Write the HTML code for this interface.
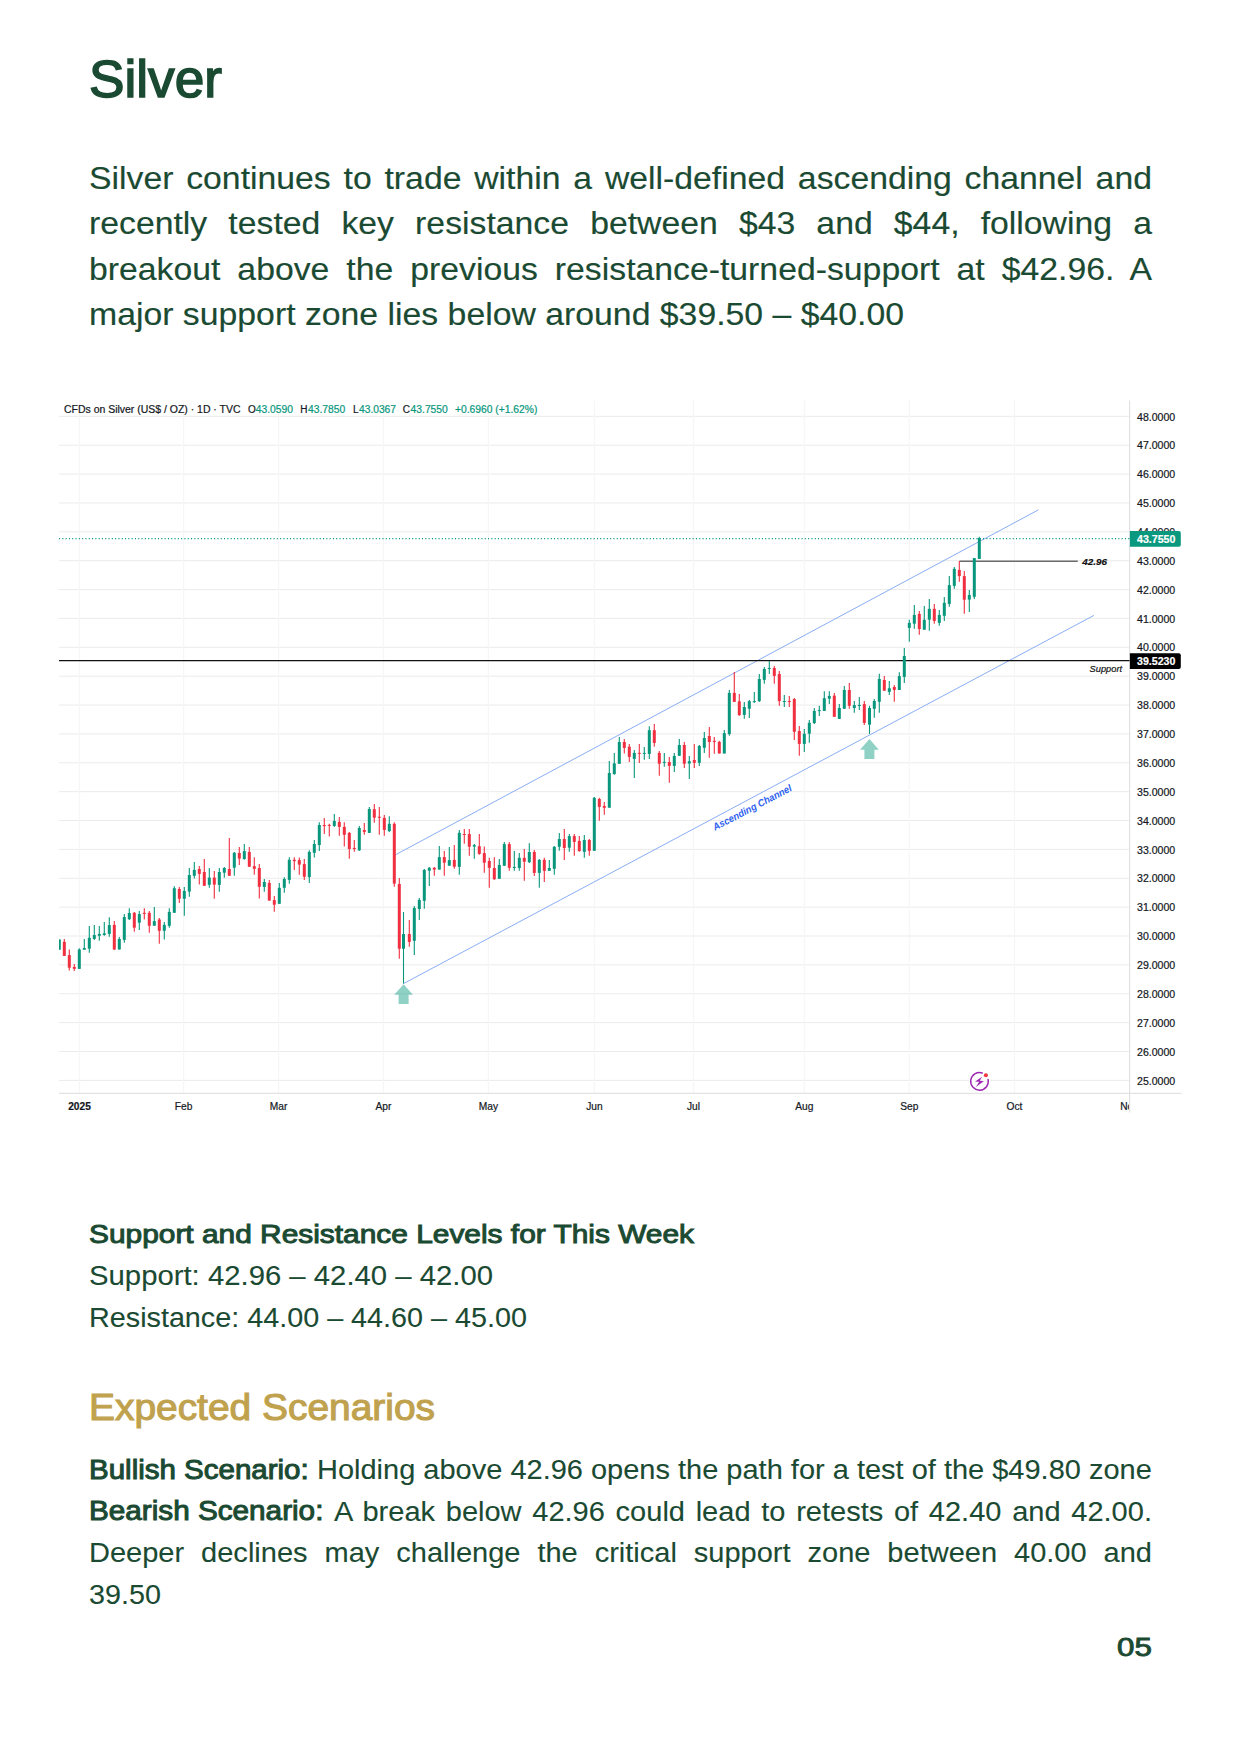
<!DOCTYPE html>
<html lang="en"><head><meta charset="utf-8"><title>Silver</title>
<style>
html,body{margin:0;padding:0;background:#fff;}
body{width:1241px;height:1754px;position:relative;overflow:hidden;font-family:'Liberation Sans', Arial, sans-serif;color:#1b4a32;}
.chart{position:absolute;left:0;top:0;}
p,h1,h2{margin:0;padding:0;}
.ln{position:absolute;display:block;white-space:nowrap;line-height:1;margin:0;padding:0;font-weight:normal;transform-origin:0 0;}
</style></head><body>
<figure style="margin:0"><svg class="chart" width="1241" height="1754" viewBox="0 0 1241 1754" font-family="Liberation Sans, Arial, sans-serif">
<line x1="59" x2="1129.6" y1="1080.36" y2="1080.36" stroke="#ebebeb" stroke-width="1"/>
<line x1="59" x2="1129.6" y1="1051.49" y2="1051.49" stroke="#ebebeb" stroke-width="1"/>
<line x1="59" x2="1129.6" y1="1022.62" y2="1022.62" stroke="#ebebeb" stroke-width="1"/>
<line x1="59" x2="1129.6" y1="993.75" y2="993.75" stroke="#ebebeb" stroke-width="1"/>
<line x1="59" x2="1129.6" y1="964.88" y2="964.88" stroke="#ebebeb" stroke-width="1"/>
<line x1="59" x2="1129.6" y1="936.01" y2="936.01" stroke="#ebebeb" stroke-width="1"/>
<line x1="59" x2="1129.6" y1="907.14" y2="907.14" stroke="#ebebeb" stroke-width="1"/>
<line x1="59" x2="1129.6" y1="878.27" y2="878.27" stroke="#ebebeb" stroke-width="1"/>
<line x1="59" x2="1129.6" y1="849.40" y2="849.40" stroke="#ebebeb" stroke-width="1"/>
<line x1="59" x2="1129.6" y1="820.53" y2="820.53" stroke="#ebebeb" stroke-width="1"/>
<line x1="59" x2="1129.6" y1="791.66" y2="791.66" stroke="#ebebeb" stroke-width="1"/>
<line x1="59" x2="1129.6" y1="762.79" y2="762.79" stroke="#ebebeb" stroke-width="1"/>
<line x1="59" x2="1129.6" y1="733.92" y2="733.92" stroke="#ebebeb" stroke-width="1"/>
<line x1="59" x2="1129.6" y1="705.05" y2="705.05" stroke="#ebebeb" stroke-width="1"/>
<line x1="59" x2="1129.6" y1="676.18" y2="676.18" stroke="#ebebeb" stroke-width="1"/>
<line x1="59" x2="1129.6" y1="647.31" y2="647.31" stroke="#ebebeb" stroke-width="1"/>
<line x1="59" x2="1129.6" y1="618.44" y2="618.44" stroke="#ebebeb" stroke-width="1"/>
<line x1="59" x2="1129.6" y1="589.57" y2="589.57" stroke="#ebebeb" stroke-width="1"/>
<line x1="59" x2="1129.6" y1="560.70" y2="560.70" stroke="#ebebeb" stroke-width="1"/>
<line x1="59" x2="1129.6" y1="531.83" y2="531.83" stroke="#ebebeb" stroke-width="1"/>
<line x1="59" x2="1129.6" y1="502.96" y2="502.96" stroke="#ebebeb" stroke-width="1"/>
<line x1="59" x2="1129.6" y1="474.09" y2="474.09" stroke="#ebebeb" stroke-width="1"/>
<line x1="59" x2="1129.6" y1="445.22" y2="445.22" stroke="#ebebeb" stroke-width="1"/>
<line x1="59" x2="1129.6" y1="416.35" y2="416.35" stroke="#ebebeb" stroke-width="1"/>
<line x1="79.50" x2="79.50" y1="400.5" y2="1093" stroke="#f6f6f6" stroke-width="1.2"/>
<line x1="183.60" x2="183.60" y1="400.5" y2="1093" stroke="#f6f6f6" stroke-width="1.2"/>
<line x1="278.60" x2="278.60" y1="400.5" y2="1093" stroke="#f6f6f6" stroke-width="1.2"/>
<line x1="383.50" x2="383.50" y1="400.5" y2="1093" stroke="#f6f6f6" stroke-width="1.2"/>
<line x1="488.40" x2="488.40" y1="400.5" y2="1093" stroke="#f6f6f6" stroke-width="1.2"/>
<line x1="594.40" x2="594.40" y1="400.5" y2="1093" stroke="#f6f6f6" stroke-width="1.2"/>
<line x1="693.50" x2="693.50" y1="400.5" y2="1093" stroke="#f6f6f6" stroke-width="1.2"/>
<line x1="804.40" x2="804.40" y1="400.5" y2="1093" stroke="#f6f6f6" stroke-width="1.2"/>
<line x1="909.30" x2="909.30" y1="400.5" y2="1093" stroke="#f6f6f6" stroke-width="1.2"/>
<line x1="1014.50" x2="1014.50" y1="400.5" y2="1093" stroke="#f6f6f6" stroke-width="1.2"/>
<line x1="1129.6" x2="1129.6" y1="400.5" y2="1112.5" stroke="#e2e2e4" stroke-width="1.2"/>
<line x1="59" x2="1181.5" y1="1093.4" y2="1093.4" stroke="#e2e2e4" stroke-width="1.2"/>
<line x1="393.6" y1="855.8" x2="1038.5" y2="509.8" stroke="#8aaef5" stroke-width="1"/>
<line x1="403.5" y1="983.6" x2="1093.9" y2="615.4" stroke="#8aaef5" stroke-width="1"/>
<line x1="59" x2="1129.6" y1="538.6" y2="538.6" stroke="#08977d" stroke-width="1.1" stroke-dasharray="1.1 2.2"/>
<line x1="59" x2="1129.6" y1="660.6" y2="660.6" stroke="#111" stroke-width="1.3"/>
<line x1="959.5" x2="1077.8" y1="561.3" y2="561.3" stroke="#6b6b6b" stroke-width="1.4"/>
<clipPath id="cc"><rect x="59" y="400" width="1070" height="693"/></clipPath><g clip-path="url(#cc)">
<line x1="59.30" x2="59.30" y1="939.5" y2="949.7" stroke="#08977d" stroke-width="1.1"/>
<rect x="57.80" y="939.5" width="3" height="10.2" fill="#08977d"/>
<line x1="64.30" x2="64.30" y1="939.0" y2="955.9" stroke="#f02f40" stroke-width="1.1"/>
<rect x="62.80" y="941.8" width="3" height="14.1" fill="#f02f40"/>
<line x1="69.30" x2="69.30" y1="949.5" y2="970.6" stroke="#f02f40" stroke-width="1.1"/>
<rect x="67.80" y="955.1" width="3" height="12.6" fill="#f02f40"/>
<line x1="74.30" x2="74.30" y1="964.0" y2="970.9" stroke="#f02f40" stroke-width="1.1"/>
<rect x="72.80" y="966.9" width="3" height="1.9" fill="#f02f40"/>
<line x1="79.30" x2="79.30" y1="948.2" y2="968.9" stroke="#08977d" stroke-width="1.1"/>
<rect x="77.80" y="949.5" width="3" height="19.4" fill="#08977d"/>
<line x1="84.30" x2="84.30" y1="939.0" y2="949.7" stroke="#08977d" stroke-width="1.1"/>
<rect x="82.80" y="948.0" width="3" height="1.7" fill="#08977d"/>
<line x1="89.30" x2="89.30" y1="926.0" y2="952.7" stroke="#08977d" stroke-width="1.1"/>
<rect x="87.80" y="937.8" width="3" height="10.9" fill="#08977d"/>
<line x1="94.30" x2="94.30" y1="925.1" y2="939.9" stroke="#08977d" stroke-width="1.1"/>
<rect x="92.80" y="935.0" width="3" height="3.9" fill="#08977d"/>
<line x1="99.30" x2="99.30" y1="926.0" y2="940.8" stroke="#08977d" stroke-width="1.1"/>
<rect x="97.80" y="933.9" width="3" height="1.9" fill="#08977d"/>
<line x1="104.30" x2="104.30" y1="922.0" y2="935.8" stroke="#08977d" stroke-width="1.1"/>
<rect x="102.80" y="933.3" width="3" height="1.7" fill="#08977d"/>
<line x1="109.30" x2="109.30" y1="917.2" y2="936.7" stroke="#08977d" stroke-width="1.1"/>
<rect x="107.80" y="925.1" width="3" height="8.8" fill="#08977d"/>
<line x1="114.30" x2="114.30" y1="921.1" y2="949.9" stroke="#f02f40" stroke-width="1.1"/>
<rect x="112.80" y="924.9" width="3" height="24.6" fill="#f02f40"/>
<line x1="119.30" x2="119.30" y1="937.1" y2="949.5" stroke="#08977d" stroke-width="1.1"/>
<rect x="117.80" y="939.0" width="3" height="10.5" fill="#08977d"/>
<line x1="124.30" x2="124.30" y1="914.1" y2="942.7" stroke="#08977d" stroke-width="1.1"/>
<rect x="122.80" y="917.0" width="3" height="22.9" fill="#08977d"/>
<line x1="129.30" x2="129.30" y1="908.2" y2="920.0" stroke="#08977d" stroke-width="1.1"/>
<rect x="127.80" y="913.0" width="3" height="6.2" fill="#08977d"/>
<line x1="134.30" x2="134.30" y1="911.9" y2="931.7" stroke="#f02f40" stroke-width="1.1"/>
<rect x="132.80" y="912.8" width="3" height="14.9" fill="#f02f40"/>
<line x1="139.30" x2="139.30" y1="911.1" y2="929.9" stroke="#08977d" stroke-width="1.1"/>
<rect x="137.80" y="914.1" width="3" height="8.6" fill="#08977d"/>
<line x1="144.30" x2="144.30" y1="908.2" y2="919.5" stroke="#f02f40" stroke-width="1.1"/>
<rect x="142.80" y="912.8" width="3" height="1.1" fill="#f02f40"/>
<line x1="149.30" x2="149.30" y1="911.1" y2="932.8" stroke="#f02f40" stroke-width="1.1"/>
<rect x="147.80" y="912.8" width="3" height="13.0" fill="#f02f40"/>
<line x1="154.30" x2="154.30" y1="907.0" y2="925.8" stroke="#08977d" stroke-width="1.1"/>
<rect x="152.80" y="921.1" width="3" height="4.6" fill="#08977d"/>
<line x1="159.30" x2="159.30" y1="918.1" y2="943.8" stroke="#f02f40" stroke-width="1.1"/>
<rect x="157.80" y="919.5" width="3" height="11.3" fill="#f02f40"/>
<line x1="164.30" x2="164.30" y1="922.0" y2="939.6" stroke="#08977d" stroke-width="1.1"/>
<rect x="162.80" y="924.9" width="3" height="5.9" fill="#08977d"/>
<line x1="169.30" x2="169.30" y1="908.2" y2="927.8" stroke="#08977d" stroke-width="1.1"/>
<rect x="167.80" y="911.9" width="3" height="13.9" fill="#08977d"/>
<line x1="174.30" x2="174.30" y1="886.2" y2="912.8" stroke="#08977d" stroke-width="1.1"/>
<rect x="172.80" y="888.2" width="3" height="24.6" fill="#08977d"/>
<line x1="179.30" x2="179.30" y1="887.1" y2="902.9" stroke="#f02f40" stroke-width="1.1"/>
<rect x="177.80" y="889.0" width="3" height="9.7" fill="#f02f40"/>
<line x1="184.30" x2="184.30" y1="887.1" y2="915.8" stroke="#08977d" stroke-width="1.1"/>
<rect x="182.80" y="891.0" width="3" height="7.7" fill="#08977d"/>
<line x1="189.30" x2="189.30" y1="868.0" y2="896.8" stroke="#08977d" stroke-width="1.1"/>
<rect x="187.80" y="875.0" width="3" height="16.6" fill="#08977d"/>
<line x1="194.30" x2="194.30" y1="862.0" y2="878.6" stroke="#08977d" stroke-width="1.1"/>
<rect x="192.80" y="869.9" width="3" height="5.9" fill="#08977d"/>
<line x1="199.30" x2="199.30" y1="866.0" y2="884.6" stroke="#f02f40" stroke-width="1.1"/>
<rect x="197.80" y="869.0" width="3" height="4.9" fill="#f02f40"/>
<line x1="204.30" x2="204.30" y1="859.0" y2="885.7" stroke="#f02f40" stroke-width="1.1"/>
<rect x="202.80" y="872.0" width="3" height="13.8" fill="#f02f40"/>
<line x1="209.30" x2="209.30" y1="868.0" y2="887.8" stroke="#08977d" stroke-width="1.1"/>
<rect x="207.80" y="877.6" width="3" height="7.2" fill="#08977d"/>
<line x1="214.30" x2="214.30" y1="871.1" y2="898.7" stroke="#f02f40" stroke-width="1.1"/>
<rect x="212.80" y="877.6" width="3" height="7.0" fill="#f02f40"/>
<line x1="219.30" x2="219.30" y1="868.0" y2="891.7" stroke="#08977d" stroke-width="1.1"/>
<rect x="217.80" y="872.0" width="3" height="12.9" fill="#08977d"/>
<line x1="224.30" x2="224.30" y1="867.1" y2="877.8" stroke="#08977d" stroke-width="1.1"/>
<rect x="222.80" y="868.0" width="3" height="4.7" fill="#08977d"/>
<line x1="229.30" x2="229.30" y1="838.1" y2="875.8" stroke="#f02f40" stroke-width="1.1"/>
<rect x="227.80" y="869.0" width="3" height="6.8" fill="#f02f40"/>
<line x1="234.30" x2="234.30" y1="851.9" y2="875.8" stroke="#08977d" stroke-width="1.1"/>
<rect x="232.80" y="852.8" width="3" height="14.9" fill="#08977d"/>
<line x1="239.30" x2="239.30" y1="847.0" y2="864.9" stroke="#f02f40" stroke-width="1.1"/>
<rect x="237.80" y="853.0" width="3" height="5.6" fill="#f02f40"/>
<line x1="244.30" x2="244.30" y1="844.0" y2="859.8" stroke="#08977d" stroke-width="1.1"/>
<rect x="242.80" y="851.1" width="3" height="7.9" fill="#08977d"/>
<line x1="249.30" x2="249.30" y1="847.0" y2="866.8" stroke="#f02f40" stroke-width="1.1"/>
<rect x="247.80" y="851.9" width="3" height="14.9" fill="#f02f40"/>
<line x1="254.30" x2="254.30" y1="857.2" y2="874.7" stroke="#f02f40" stroke-width="1.1"/>
<rect x="252.80" y="866.2" width="3" height="2.6" fill="#f02f40"/>
<line x1="259.30" x2="259.30" y1="864.1" y2="898.5" stroke="#f02f40" stroke-width="1.1"/>
<rect x="257.80" y="868.0" width="3" height="18.8" fill="#f02f40"/>
<line x1="264.30" x2="264.30" y1="879.0" y2="891.7" stroke="#08977d" stroke-width="1.1"/>
<rect x="262.80" y="882.0" width="3" height="4.9" fill="#08977d"/>
<line x1="269.30" x2="269.30" y1="880.1" y2="900.6" stroke="#f02f40" stroke-width="1.1"/>
<rect x="267.80" y="882.9" width="3" height="17.7" fill="#f02f40"/>
<line x1="274.30" x2="274.30" y1="896.1" y2="911.7" stroke="#f02f40" stroke-width="1.1"/>
<rect x="272.80" y="900.1" width="3" height="4.6" fill="#f02f40"/>
<line x1="279.30" x2="279.30" y1="883.1" y2="903.8" stroke="#08977d" stroke-width="1.1"/>
<rect x="277.80" y="887.8" width="3" height="16.0" fill="#08977d"/>
<line x1="284.30" x2="284.30" y1="877.3" y2="892.7" stroke="#08977d" stroke-width="1.1"/>
<rect x="282.80" y="879.0" width="3" height="8.8" fill="#08977d"/>
<line x1="289.30" x2="289.30" y1="857.3" y2="883.8" stroke="#08977d" stroke-width="1.1"/>
<rect x="287.80" y="859.8" width="3" height="20.1" fill="#08977d"/>
<line x1="294.30" x2="294.30" y1="857.2" y2="869.9" stroke="#f02f40" stroke-width="1.1"/>
<rect x="292.80" y="859.8" width="3" height="1.4" fill="#f02f40"/>
<line x1="299.30" x2="299.30" y1="857.5" y2="874.7" stroke="#f02f40" stroke-width="1.1"/>
<rect x="297.80" y="860.1" width="3" height="4.5" fill="#f02f40"/>
<line x1="304.30" x2="304.30" y1="859.0" y2="879.9" stroke="#f02f40" stroke-width="1.1"/>
<rect x="302.80" y="864.1" width="3" height="12.6" fill="#f02f40"/>
<line x1="309.30" x2="309.30" y1="850.2" y2="882.9" stroke="#08977d" stroke-width="1.1"/>
<rect x="307.80" y="851.9" width="3" height="25.2" fill="#08977d"/>
<line x1="314.30" x2="314.30" y1="840.0" y2="857.5" stroke="#08977d" stroke-width="1.1"/>
<rect x="312.80" y="844.0" width="3" height="8.8" fill="#08977d"/>
<line x1="319.30" x2="319.30" y1="822.2" y2="850.9" stroke="#08977d" stroke-width="1.1"/>
<rect x="317.80" y="825.0" width="3" height="20.0" fill="#08977d"/>
<line x1="324.30" x2="324.30" y1="818.0" y2="834.0" stroke="#f02f40" stroke-width="1.1"/>
<rect x="322.80" y="825.0" width="3" height="1.1" fill="#f02f40"/>
<line x1="329.30" x2="329.30" y1="823.8" y2="836.5" stroke="#f02f40" stroke-width="1.1"/>
<rect x="327.80" y="824.9" width="3" height="1.0" fill="#f02f40"/>
<line x1="334.30" x2="334.30" y1="814.0" y2="826.9" stroke="#08977d" stroke-width="1.1"/>
<rect x="332.80" y="821.0" width="3" height="4.9" fill="#08977d"/>
<line x1="339.30" x2="339.30" y1="817.1" y2="835.7" stroke="#f02f40" stroke-width="1.1"/>
<rect x="337.80" y="821.9" width="3" height="5.0" fill="#f02f40"/>
<line x1="344.30" x2="344.30" y1="822.2" y2="846.4" stroke="#f02f40" stroke-width="1.1"/>
<rect x="342.80" y="826.9" width="3" height="7.9" fill="#f02f40"/>
<line x1="349.30" x2="349.30" y1="832.0" y2="858.8" stroke="#f02f40" stroke-width="1.1"/>
<rect x="347.80" y="832.9" width="3" height="16.1" fill="#f02f40"/>
<line x1="354.30" x2="354.30" y1="840.0" y2="851.8" stroke="#f02f40" stroke-width="1.1"/>
<rect x="352.80" y="847.9" width="3" height="1.1" fill="#f02f40"/>
<line x1="359.30" x2="359.30" y1="826.1" y2="850.9" stroke="#08977d" stroke-width="1.1"/>
<rect x="357.80" y="828.0" width="3" height="22.3" fill="#08977d"/>
<line x1="364.30" x2="364.30" y1="823.1" y2="834.8" stroke="#f02f40" stroke-width="1.1"/>
<rect x="362.80" y="830.0" width="3" height="1.9" fill="#f02f40"/>
<line x1="369.30" x2="369.30" y1="806.9" y2="832.9" stroke="#08977d" stroke-width="1.1"/>
<rect x="367.80" y="809.0" width="3" height="23.9" fill="#08977d"/>
<line x1="374.30" x2="374.30" y1="804.1" y2="822.7" stroke="#f02f40" stroke-width="1.1"/>
<rect x="372.80" y="809.2" width="3" height="8.5" fill="#f02f40"/>
<line x1="379.30" x2="379.30" y1="806.9" y2="834.8" stroke="#f02f40" stroke-width="1.1"/>
<rect x="377.80" y="816.7" width="3" height="1.1" fill="#f02f40"/>
<line x1="384.30" x2="384.30" y1="815.0" y2="835.7" stroke="#f02f40" stroke-width="1.1"/>
<rect x="382.80" y="817.9" width="3" height="12.0" fill="#f02f40"/>
<line x1="389.30" x2="389.30" y1="816.2" y2="832.0" stroke="#08977d" stroke-width="1.1"/>
<rect x="387.80" y="823.8" width="3" height="7.3" fill="#08977d"/>
<line x1="394.30" x2="394.30" y1="822.2" y2="886.8" stroke="#f02f40" stroke-width="1.1"/>
<rect x="392.80" y="823.8" width="3" height="59.8" fill="#f02f40"/>
<line x1="399.30" x2="399.30" y1="878.0" y2="958.8" stroke="#f02f40" stroke-width="1.1"/>
<rect x="397.80" y="884.0" width="3" height="64.7" fill="#f02f40"/>
<line x1="403.50" x2="403.50" y1="912.0" y2="983.6" stroke="#08977d" stroke-width="1.1"/>
<rect x="402.00" y="934.0" width="3" height="14.7" fill="#08977d"/>
<line x1="409.30" x2="409.30" y1="920.1" y2="946.7" stroke="#f02f40" stroke-width="1.1"/>
<rect x="407.80" y="934.0" width="3" height="7.9" fill="#f02f40"/>
<line x1="414.30" x2="414.30" y1="906.0" y2="954.9" stroke="#08977d" stroke-width="1.1"/>
<rect x="412.80" y="908.0" width="3" height="32.8" fill="#08977d"/>
<line x1="419.30" x2="419.30" y1="898.1" y2="919.9" stroke="#08977d" stroke-width="1.1"/>
<rect x="417.80" y="899.9" width="3" height="9.1" fill="#08977d"/>
<line x1="424.30" x2="424.30" y1="869.0" y2="908.8" stroke="#08977d" stroke-width="1.1"/>
<rect x="422.80" y="869.9" width="3" height="30.9" fill="#08977d"/>
<line x1="429.30" x2="429.30" y1="867.1" y2="885.9" stroke="#08977d" stroke-width="1.1"/>
<rect x="427.80" y="867.8" width="3" height="2.9" fill="#08977d"/>
<line x1="434.30" x2="434.30" y1="867.1" y2="875.7" stroke="#f02f40" stroke-width="1.1"/>
<rect x="432.80" y="867.8" width="3" height="1.8" fill="#f02f40"/>
<line x1="439.30" x2="439.30" y1="846.1" y2="869.6" stroke="#08977d" stroke-width="1.1"/>
<rect x="437.80" y="857.1" width="3" height="12.5" fill="#08977d"/>
<line x1="444.30" x2="444.30" y1="850.9" y2="875.7" stroke="#f02f40" stroke-width="1.1"/>
<rect x="442.80" y="857.1" width="3" height="5.6" fill="#f02f40"/>
<line x1="449.30" x2="449.30" y1="847.1" y2="865.7" stroke="#08977d" stroke-width="1.1"/>
<rect x="447.80" y="860.1" width="3" height="5.6" fill="#08977d"/>
<line x1="454.30" x2="454.30" y1="845.1" y2="868.8" stroke="#f02f40" stroke-width="1.1"/>
<rect x="452.80" y="859.9" width="3" height="6.8" fill="#f02f40"/>
<line x1="459.30" x2="459.30" y1="830.0" y2="874.8" stroke="#08977d" stroke-width="1.1"/>
<rect x="457.80" y="832.8" width="3" height="34.1" fill="#08977d"/>
<line x1="464.30" x2="464.30" y1="829.1" y2="843.7" stroke="#f02f40" stroke-width="1.1"/>
<rect x="462.80" y="834.0" width="3" height="1.0" fill="#f02f40"/>
<line x1="469.30" x2="469.30" y1="829.1" y2="855.8" stroke="#f02f40" stroke-width="1.1"/>
<rect x="467.80" y="834.1" width="3" height="12.6" fill="#f02f40"/>
<line x1="474.30" x2="474.30" y1="844.1" y2="858.7" stroke="#08977d" stroke-width="1.1"/>
<rect x="472.80" y="845.1" width="3" height="1.5" fill="#08977d"/>
<line x1="479.30" x2="479.30" y1="834.1" y2="854.7" stroke="#f02f40" stroke-width="1.1"/>
<rect x="477.80" y="846.2" width="3" height="7.7" fill="#f02f40"/>
<line x1="484.30" x2="484.30" y1="846.6" y2="872.8" stroke="#f02f40" stroke-width="1.1"/>
<rect x="482.80" y="853.1" width="3" height="9.6" fill="#f02f40"/>
<line x1="489.30" x2="489.30" y1="857.8" y2="887.7" stroke="#f02f40" stroke-width="1.1"/>
<rect x="487.80" y="861.0" width="3" height="6.8" fill="#f02f40"/>
<line x1="494.30" x2="494.30" y1="857.3" y2="879.8" stroke="#f02f40" stroke-width="1.1"/>
<rect x="492.80" y="868.0" width="3" height="11.3" fill="#f02f40"/>
<line x1="499.30" x2="499.30" y1="859.0" y2="878.8" stroke="#08977d" stroke-width="1.1"/>
<rect x="497.80" y="864.9" width="3" height="13.9" fill="#08977d"/>
<line x1="504.30" x2="504.30" y1="842.0" y2="865.7" stroke="#08977d" stroke-width="1.1"/>
<rect x="502.80" y="844.1" width="3" height="21.7" fill="#08977d"/>
<line x1="509.30" x2="509.30" y1="842.0" y2="870.8" stroke="#f02f40" stroke-width="1.1"/>
<rect x="507.80" y="844.1" width="3" height="23.7" fill="#f02f40"/>
<line x1="514.30" x2="514.30" y1="851.1" y2="870.8" stroke="#08977d" stroke-width="1.1"/>
<rect x="512.80" y="866.9" width="3" height="1.1" fill="#08977d"/>
<line x1="519.30" x2="519.30" y1="853.1" y2="870.8" stroke="#08977d" stroke-width="1.1"/>
<rect x="517.80" y="857.8" width="3" height="10.2" fill="#08977d"/>
<line x1="524.30" x2="524.30" y1="849.0" y2="880.7" stroke="#f02f40" stroke-width="1.1"/>
<rect x="522.80" y="857.8" width="3" height="3.9" fill="#f02f40"/>
<line x1="529.30" x2="529.30" y1="843.2" y2="862.9" stroke="#08977d" stroke-width="1.1"/>
<rect x="527.80" y="852.0" width="3" height="10.2" fill="#08977d"/>
<line x1="534.30" x2="534.30" y1="849.9" y2="875.9" stroke="#f02f40" stroke-width="1.1"/>
<rect x="532.80" y="852.0" width="3" height="20.9" fill="#f02f40"/>
<line x1="539.30" x2="539.30" y1="859.0" y2="887.7" stroke="#08977d" stroke-width="1.1"/>
<rect x="537.80" y="859.9" width="3" height="13.0" fill="#08977d"/>
<line x1="544.30" x2="544.30" y1="857.8" y2="881.9" stroke="#f02f40" stroke-width="1.1"/>
<rect x="542.80" y="859.9" width="3" height="10.9" fill="#f02f40"/>
<line x1="549.30" x2="549.30" y1="860.1" y2="870.8" stroke="#08977d" stroke-width="1.1"/>
<rect x="547.80" y="868.0" width="3" height="2.8" fill="#08977d"/>
<line x1="554.30" x2="554.30" y1="846.0" y2="874.8" stroke="#08977d" stroke-width="1.1"/>
<rect x="552.80" y="846.8" width="3" height="22.0" fill="#08977d"/>
<line x1="559.30" x2="559.30" y1="833.0" y2="850.8" stroke="#08977d" stroke-width="1.1"/>
<rect x="557.80" y="839.0" width="3" height="7.8" fill="#08977d"/>
<line x1="564.30" x2="564.30" y1="829.1" y2="859.9" stroke="#f02f40" stroke-width="1.1"/>
<rect x="562.80" y="839.0" width="3" height="9.0" fill="#f02f40"/>
<line x1="569.30" x2="569.30" y1="834.1" y2="851.7" stroke="#08977d" stroke-width="1.1"/>
<rect x="567.80" y="836.1" width="3" height="11.6" fill="#08977d"/>
<line x1="574.30" x2="574.30" y1="834.1" y2="855.8" stroke="#f02f40" stroke-width="1.1"/>
<rect x="572.80" y="836.1" width="3" height="5.8" fill="#f02f40"/>
<line x1="579.30" x2="579.30" y1="836.1" y2="851.7" stroke="#f02f40" stroke-width="1.1"/>
<rect x="577.80" y="840.9" width="3" height="10.2" fill="#f02f40"/>
<line x1="584.30" x2="584.30" y1="835.0" y2="857.8" stroke="#08977d" stroke-width="1.1"/>
<rect x="582.80" y="840.0" width="3" height="11.8" fill="#08977d"/>
<line x1="589.30" x2="589.30" y1="838.9" y2="855.8" stroke="#f02f40" stroke-width="1.1"/>
<rect x="587.80" y="840.0" width="3" height="10.8" fill="#f02f40"/>
<line x1="594.30" x2="594.30" y1="797.0" y2="850.8" stroke="#08977d" stroke-width="1.1"/>
<rect x="592.80" y="797.8" width="3" height="53.0" fill="#08977d"/>
<line x1="599.30" x2="599.30" y1="797.8" y2="820.7" stroke="#f02f40" stroke-width="1.1"/>
<rect x="597.80" y="799.0" width="3" height="7.9" fill="#f02f40"/>
<line x1="604.30" x2="604.30" y1="802.0" y2="814.8" stroke="#f02f40" stroke-width="1.1"/>
<rect x="602.80" y="806.0" width="3" height="1.8" fill="#f02f40"/>
<line x1="609.30" x2="609.30" y1="761.0" y2="807.8" stroke="#08977d" stroke-width="1.1"/>
<rect x="607.80" y="773.0" width="3" height="34.7" fill="#08977d"/>
<line x1="614.30" x2="614.30" y1="753.1" y2="774.7" stroke="#08977d" stroke-width="1.1"/>
<rect x="612.80" y="763.4" width="3" height="10.7" fill="#08977d"/>
<line x1="619.30" x2="619.30" y1="736.9" y2="763.8" stroke="#08977d" stroke-width="1.1"/>
<rect x="617.80" y="742.0" width="3" height="21.8" fill="#08977d"/>
<line x1="624.30" x2="624.30" y1="739.0" y2="753.5" stroke="#f02f40" stroke-width="1.1"/>
<rect x="622.80" y="742.0" width="3" height="5.9" fill="#f02f40"/>
<line x1="629.30" x2="629.30" y1="744.0" y2="762.0" stroke="#f02f40" stroke-width="1.1"/>
<rect x="627.80" y="746.7" width="3" height="10.2" fill="#f02f40"/>
<line x1="634.30" x2="634.30" y1="749.9" y2="777.9" stroke="#08977d" stroke-width="1.1"/>
<rect x="632.80" y="752.9" width="3" height="6.0" fill="#08977d"/>
<line x1="639.30" x2="639.30" y1="744.0" y2="762.9" stroke="#f02f40" stroke-width="1.1"/>
<rect x="637.80" y="752.9" width="3" height="1.0" fill="#f02f40"/>
<line x1="644.30" x2="644.30" y1="747.1" y2="759.8" stroke="#08977d" stroke-width="1.1"/>
<rect x="642.80" y="752.9" width="3" height="1.0" fill="#08977d"/>
<line x1="649.30" x2="649.30" y1="726.2" y2="758.9" stroke="#08977d" stroke-width="1.1"/>
<rect x="647.80" y="730.2" width="3" height="23.7" fill="#08977d"/>
<line x1="654.30" x2="654.30" y1="723.9" y2="746.8" stroke="#f02f40" stroke-width="1.1"/>
<rect x="652.80" y="730.2" width="3" height="12.7" fill="#f02f40"/>
<line x1="659.30" x2="659.30" y1="751.0" y2="775.8" stroke="#f02f40" stroke-width="1.1"/>
<rect x="657.80" y="752.9" width="3" height="10.8" fill="#f02f40"/>
<line x1="664.30" x2="664.30" y1="753.1" y2="766.8" stroke="#08977d" stroke-width="1.1"/>
<rect x="662.80" y="761.9" width="3" height="1.0" fill="#08977d"/>
<line x1="669.30" x2="669.30" y1="757.0" y2="782.8" stroke="#f02f40" stroke-width="1.1"/>
<rect x="667.80" y="762.0" width="3" height="3.9" fill="#f02f40"/>
<line x1="674.30" x2="674.30" y1="753.1" y2="771.9" stroke="#08977d" stroke-width="1.1"/>
<rect x="672.80" y="755.9" width="3" height="10.0" fill="#08977d"/>
<line x1="679.30" x2="679.30" y1="739.0" y2="755.9" stroke="#08977d" stroke-width="1.1"/>
<rect x="677.80" y="745.0" width="3" height="10.8" fill="#08977d"/>
<line x1="684.30" x2="684.30" y1="742.0" y2="767.9" stroke="#f02f40" stroke-width="1.1"/>
<rect x="682.80" y="745.0" width="3" height="18.7" fill="#f02f40"/>
<line x1="689.30" x2="689.30" y1="756.1" y2="778.9" stroke="#08977d" stroke-width="1.1"/>
<rect x="687.80" y="761.2" width="3" height="2.3" fill="#08977d"/>
<line x1="694.30" x2="694.30" y1="744.0" y2="767.9" stroke="#f02f40" stroke-width="1.1"/>
<rect x="692.80" y="760.0" width="3" height="2.8" fill="#f02f40"/>
<line x1="699.30" x2="699.30" y1="745.0" y2="765.9" stroke="#08977d" stroke-width="1.1"/>
<rect x="697.80" y="745.9" width="3" height="16.9" fill="#08977d"/>
<line x1="704.30" x2="704.30" y1="732.1" y2="753.1" stroke="#08977d" stroke-width="1.1"/>
<rect x="702.80" y="738.0" width="3" height="9.8" fill="#08977d"/>
<line x1="709.30" x2="709.30" y1="727.1" y2="757.7" stroke="#f02f40" stroke-width="1.1"/>
<rect x="707.80" y="736.0" width="3" height="6.0" fill="#f02f40"/>
<line x1="714.30" x2="714.30" y1="736.9" y2="753.8" stroke="#f02f40" stroke-width="1.1"/>
<rect x="712.80" y="740.8" width="3" height="1.1" fill="#f02f40"/>
<line x1="719.30" x2="719.30" y1="740.8" y2="753.6" stroke="#f02f40" stroke-width="1.1"/>
<rect x="717.80" y="741.9" width="3" height="11.6" fill="#f02f40"/>
<line x1="724.30" x2="724.30" y1="730.1" y2="753.6" stroke="#08977d" stroke-width="1.1"/>
<rect x="722.80" y="733.1" width="3" height="20.4" fill="#08977d"/>
<line x1="729.30" x2="729.30" y1="690.0" y2="735.7" stroke="#08977d" stroke-width="1.1"/>
<rect x="727.80" y="692.9" width="3" height="41.2" fill="#08977d"/>
<line x1="734.30" x2="734.30" y1="672.0" y2="701.9" stroke="#f02f40" stroke-width="1.1"/>
<rect x="732.80" y="692.9" width="3" height="9.0" fill="#f02f40"/>
<line x1="739.30" x2="739.30" y1="694.0" y2="715.8" stroke="#f02f40" stroke-width="1.1"/>
<rect x="737.80" y="701.3" width="3" height="13.9" fill="#f02f40"/>
<line x1="744.30" x2="744.30" y1="701.9" y2="718.8" stroke="#08977d" stroke-width="1.1"/>
<rect x="742.80" y="707.0" width="3" height="7.9" fill="#08977d"/>
<line x1="749.30" x2="749.30" y1="700.0" y2="718.0" stroke="#08977d" stroke-width="1.1"/>
<rect x="747.80" y="701.1" width="3" height="7.6" fill="#08977d"/>
<line x1="754.30" x2="754.30" y1="692.0" y2="703.0" stroke="#08977d" stroke-width="1.1"/>
<rect x="752.80" y="701.1" width="3" height="1.0" fill="#08977d"/>
<line x1="759.30" x2="759.30" y1="674.0" y2="701.9" stroke="#08977d" stroke-width="1.1"/>
<rect x="757.80" y="679.0" width="3" height="22.1" fill="#08977d"/>
<line x1="764.30" x2="764.30" y1="666.9" y2="683.8" stroke="#08977d" stroke-width="1.1"/>
<rect x="762.80" y="669.0" width="3" height="10.9" fill="#08977d"/>
<line x1="769.30" x2="769.30" y1="660.9" y2="674.0" stroke="#08977d" stroke-width="1.1"/>
<rect x="767.80" y="668.0" width="3" height="1.0" fill="#08977d"/>
<line x1="774.30" x2="774.30" y1="666.0" y2="683.8" stroke="#f02f40" stroke-width="1.1"/>
<rect x="772.80" y="668.0" width="3" height="7.9" fill="#f02f40"/>
<line x1="779.30" x2="779.30" y1="671.1" y2="705.8" stroke="#f02f40" stroke-width="1.1"/>
<rect x="777.80" y="674.0" width="3" height="27.1" fill="#f02f40"/>
<line x1="784.30" x2="784.30" y1="694.9" y2="707.0" stroke="#08977d" stroke-width="1.1"/>
<rect x="782.80" y="701.0" width="3" height="1.0" fill="#08977d"/>
<line x1="789.30" x2="789.30" y1="695.9" y2="707.0" stroke="#f02f40" stroke-width="1.1"/>
<rect x="787.80" y="701.0" width="3" height="1.0" fill="#f02f40"/>
<line x1="794.30" x2="794.30" y1="697.9" y2="739.9" stroke="#f02f40" stroke-width="1.1"/>
<rect x="792.80" y="699.1" width="3" height="32.7" fill="#f02f40"/>
<line x1="799.30" x2="799.30" y1="725.9" y2="755.8" stroke="#f02f40" stroke-width="1.1"/>
<rect x="797.80" y="731.0" width="3" height="12.9" fill="#f02f40"/>
<line x1="804.30" x2="804.30" y1="729.0" y2="751.9" stroke="#08977d" stroke-width="1.1"/>
<rect x="802.80" y="733.7" width="3" height="10.2" fill="#08977d"/>
<line x1="809.30" x2="809.30" y1="719.9" y2="742.8" stroke="#08977d" stroke-width="1.1"/>
<rect x="807.80" y="722.8" width="3" height="10.9" fill="#08977d"/>
<line x1="814.30" x2="814.30" y1="707.9" y2="723.9" stroke="#08977d" stroke-width="1.1"/>
<rect x="812.80" y="710.9" width="3" height="12.2" fill="#08977d"/>
<line x1="819.30" x2="819.30" y1="705.8" y2="716.0" stroke="#08977d" stroke-width="1.1"/>
<rect x="817.80" y="710.1" width="3" height="1.0" fill="#08977d"/>
<line x1="824.30" x2="824.30" y1="691.2" y2="710.9" stroke="#08977d" stroke-width="1.1"/>
<rect x="822.80" y="698.2" width="3" height="12.7" fill="#08977d"/>
<line x1="829.30" x2="829.30" y1="691.2" y2="703.9" stroke="#08977d" stroke-width="1.1"/>
<rect x="827.80" y="695.9" width="3" height="2.8" fill="#08977d"/>
<line x1="834.30" x2="834.30" y1="692.9" y2="716.8" stroke="#f02f40" stroke-width="1.1"/>
<rect x="832.80" y="695.7" width="3" height="21.1" fill="#f02f40"/>
<line x1="839.30" x2="839.30" y1="704.1" y2="719.0" stroke="#08977d" stroke-width="1.1"/>
<rect x="837.80" y="708.0" width="3" height="10.9" fill="#08977d"/>
<line x1="844.30" x2="844.30" y1="685.9" y2="708.8" stroke="#08977d" stroke-width="1.1"/>
<rect x="842.80" y="690.0" width="3" height="18.8" fill="#08977d"/>
<line x1="849.30" x2="849.30" y1="682.9" y2="708.8" stroke="#f02f40" stroke-width="1.1"/>
<rect x="847.80" y="690.0" width="3" height="15.8" fill="#f02f40"/>
<line x1="854.30" x2="854.30" y1="700.9" y2="712.8" stroke="#08977d" stroke-width="1.1"/>
<rect x="852.80" y="705.1" width="3" height="2.9" fill="#08977d"/>
<line x1="859.30" x2="859.30" y1="697.0" y2="709.9" stroke="#08977d" stroke-width="1.1"/>
<rect x="857.80" y="704.9" width="3" height="1.1" fill="#08977d"/>
<line x1="864.30" x2="864.30" y1="700.9" y2="724.9" stroke="#f02f40" stroke-width="1.1"/>
<rect x="862.80" y="704.1" width="3" height="18.8" fill="#f02f40"/>
<line x1="869.50" x2="869.50" y1="705.8" y2="733.9" stroke="#08977d" stroke-width="1.1"/>
<rect x="868.00" y="708.0" width="3" height="16.6" fill="#08977d"/>
<line x1="874.30" x2="874.30" y1="699.0" y2="717.8" stroke="#08977d" stroke-width="1.1"/>
<rect x="872.80" y="700.9" width="3" height="7.9" fill="#08977d"/>
<line x1="879.30" x2="879.30" y1="673.8" y2="712.8" stroke="#08977d" stroke-width="1.1"/>
<rect x="877.80" y="678.9" width="3" height="22.9" fill="#08977d"/>
<line x1="884.30" x2="884.30" y1="676.1" y2="690.8" stroke="#f02f40" stroke-width="1.1"/>
<rect x="882.80" y="680.0" width="3" height="10.7" fill="#f02f40"/>
<line x1="889.30" x2="889.30" y1="681.0" y2="694.9" stroke="#08977d" stroke-width="1.1"/>
<rect x="887.80" y="688.2" width="3" height="3.7" fill="#08977d"/>
<line x1="894.30" x2="894.30" y1="684.9" y2="701.8" stroke="#f02f40" stroke-width="1.1"/>
<rect x="892.80" y="687.0" width="3" height="2.9" fill="#f02f40"/>
<line x1="899.30" x2="899.30" y1="672.2" y2="690.0" stroke="#08977d" stroke-width="1.1"/>
<rect x="897.80" y="676.1" width="3" height="13.9" fill="#08977d"/>
<line x1="904.30" x2="904.30" y1="648.1" y2="682.9" stroke="#08977d" stroke-width="1.1"/>
<rect x="902.80" y="656.0" width="3" height="20.9" fill="#08977d"/>
<line x1="909.30" x2="909.30" y1="619.8" y2="641.8" stroke="#08977d" stroke-width="1.1"/>
<rect x="907.80" y="622.9" width="3" height="5.0" fill="#08977d"/>
<line x1="914.30" x2="914.30" y1="604.9" y2="628.8" stroke="#08977d" stroke-width="1.1"/>
<rect x="912.80" y="614.9" width="3" height="8.8" fill="#08977d"/>
<line x1="919.30" x2="919.30" y1="611.0" y2="634.8" stroke="#f02f40" stroke-width="1.1"/>
<rect x="917.80" y="613.9" width="3" height="15.1" fill="#f02f40"/>
<line x1="924.30" x2="924.30" y1="606.0" y2="629.7" stroke="#08977d" stroke-width="1.1"/>
<rect x="922.80" y="619.8" width="3" height="9.9" fill="#08977d"/>
<line x1="929.30" x2="929.30" y1="598.9" y2="630.8" stroke="#08977d" stroke-width="1.1"/>
<rect x="927.80" y="608.8" width="3" height="10.9" fill="#08977d"/>
<line x1="934.30" x2="934.30" y1="604.0" y2="623.7" stroke="#f02f40" stroke-width="1.1"/>
<rect x="932.80" y="608.8" width="3" height="12.1" fill="#f02f40"/>
<line x1="939.30" x2="939.30" y1="609.9" y2="625.7" stroke="#08977d" stroke-width="1.1"/>
<rect x="937.80" y="614.9" width="3" height="8.0" fill="#08977d"/>
<line x1="944.30" x2="944.30" y1="597.0" y2="620.9" stroke="#08977d" stroke-width="1.1"/>
<rect x="942.80" y="602.8" width="3" height="13.0" fill="#08977d"/>
<line x1="949.30" x2="949.30" y1="576.1" y2="606.8" stroke="#08977d" stroke-width="1.1"/>
<rect x="947.80" y="585.1" width="3" height="18.8" fill="#08977d"/>
<line x1="954.30" x2="954.30" y1="567.0" y2="588.7" stroke="#08977d" stroke-width="1.1"/>
<rect x="952.80" y="568.8" width="3" height="17.1" fill="#08977d"/>
<line x1="959.30" x2="959.30" y1="561.1" y2="581.7" stroke="#f02f40" stroke-width="1.1"/>
<rect x="957.80" y="569.9" width="3" height="6.2" fill="#f02f40"/>
<line x1="964.30" x2="964.30" y1="570.9" y2="613.8" stroke="#f02f40" stroke-width="1.1"/>
<rect x="962.80" y="576.1" width="3" height="23.6" fill="#f02f40"/>
<line x1="969.30" x2="969.30" y1="590.1" y2="611.9" stroke="#08977d" stroke-width="1.1"/>
<rect x="967.80" y="594.9" width="3" height="4.7" fill="#08977d"/>
<line x1="974.30" x2="974.30" y1="558.1" y2="598.9" stroke="#08977d" stroke-width="1.1"/>
<rect x="972.80" y="558.1" width="3" height="38.7" fill="#08977d"/>
<line x1="979.30" x2="979.30" y1="536.8" y2="558.8" stroke="#08977d" stroke-width="1.1"/>
<rect x="977.80" y="538.0" width="3" height="20.9" fill="#08977d"/>
</g>
<path d="M403.6 984.2 L412.9 994.8 L408.6 994.8 L408.6 1004.0 L398.6 1004.0 L398.6 994.8 L394.2 994.8 Z" fill="#089981" fill-opacity="0.45"/>
<path d="M869.4 738.9 L878.8 749.8 L874.4 749.8 L874.4 759.0 L864.4 759.0 L864.4 749.8 L860.0 749.8 Z" fill="#089981" fill-opacity="0.45"/>
<text x="1137.0" y="1084.5" font-size="10.6" fill="#131722" font-weight="normal" font-style="normal" text-anchor="start" textLength="38.2" lengthAdjust="spacingAndGlyphs" stroke="#131722" stroke-width="0.2">25.0000</text>
<text x="1137.0" y="1055.6" font-size="10.6" fill="#131722" font-weight="normal" font-style="normal" text-anchor="start" textLength="38.2" lengthAdjust="spacingAndGlyphs" stroke="#131722" stroke-width="0.2">26.0000</text>
<text x="1137.0" y="1026.7" font-size="10.6" fill="#131722" font-weight="normal" font-style="normal" text-anchor="start" textLength="38.2" lengthAdjust="spacingAndGlyphs" stroke="#131722" stroke-width="0.2">27.0000</text>
<text x="1137.0" y="997.9" font-size="10.6" fill="#131722" font-weight="normal" font-style="normal" text-anchor="start" textLength="38.2" lengthAdjust="spacingAndGlyphs" stroke="#131722" stroke-width="0.2">28.0000</text>
<text x="1137.0" y="969.0" font-size="10.6" fill="#131722" font-weight="normal" font-style="normal" text-anchor="start" textLength="38.2" lengthAdjust="spacingAndGlyphs" stroke="#131722" stroke-width="0.2">29.0000</text>
<text x="1137.0" y="940.1" font-size="10.6" fill="#131722" font-weight="normal" font-style="normal" text-anchor="start" textLength="38.2" lengthAdjust="spacingAndGlyphs" stroke="#131722" stroke-width="0.2">30.0000</text>
<text x="1137.0" y="911.2" font-size="10.6" fill="#131722" font-weight="normal" font-style="normal" text-anchor="start" textLength="38.2" lengthAdjust="spacingAndGlyphs" stroke="#131722" stroke-width="0.2">31.0000</text>
<text x="1137.0" y="882.4" font-size="10.6" fill="#131722" font-weight="normal" font-style="normal" text-anchor="start" textLength="38.2" lengthAdjust="spacingAndGlyphs" stroke="#131722" stroke-width="0.2">32.0000</text>
<text x="1137.0" y="853.5" font-size="10.6" fill="#131722" font-weight="normal" font-style="normal" text-anchor="start" textLength="38.2" lengthAdjust="spacingAndGlyphs" stroke="#131722" stroke-width="0.2">33.0000</text>
<text x="1137.0" y="824.6" font-size="10.6" fill="#131722" font-weight="normal" font-style="normal" text-anchor="start" textLength="38.2" lengthAdjust="spacingAndGlyphs" stroke="#131722" stroke-width="0.2">34.0000</text>
<text x="1137.0" y="795.8" font-size="10.6" fill="#131722" font-weight="normal" font-style="normal" text-anchor="start" textLength="38.2" lengthAdjust="spacingAndGlyphs" stroke="#131722" stroke-width="0.2">35.0000</text>
<text x="1137.0" y="766.9" font-size="10.6" fill="#131722" font-weight="normal" font-style="normal" text-anchor="start" textLength="38.2" lengthAdjust="spacingAndGlyphs" stroke="#131722" stroke-width="0.2">36.0000</text>
<text x="1137.0" y="738.0" font-size="10.6" fill="#131722" font-weight="normal" font-style="normal" text-anchor="start" textLength="38.2" lengthAdjust="spacingAndGlyphs" stroke="#131722" stroke-width="0.2">37.0000</text>
<text x="1137.0" y="709.1" font-size="10.6" fill="#131722" font-weight="normal" font-style="normal" text-anchor="start" textLength="38.2" lengthAdjust="spacingAndGlyphs" stroke="#131722" stroke-width="0.2">38.0000</text>
<text x="1137.0" y="680.3" font-size="10.6" fill="#131722" font-weight="normal" font-style="normal" text-anchor="start" textLength="38.2" lengthAdjust="spacingAndGlyphs" stroke="#131722" stroke-width="0.2">39.0000</text>
<text x="1137.0" y="651.4" font-size="10.6" fill="#131722" font-weight="normal" font-style="normal" text-anchor="start" textLength="38.2" lengthAdjust="spacingAndGlyphs" stroke="#131722" stroke-width="0.2">40.0000</text>
<text x="1137.0" y="622.5" font-size="10.6" fill="#131722" font-weight="normal" font-style="normal" text-anchor="start" textLength="38.2" lengthAdjust="spacingAndGlyphs" stroke="#131722" stroke-width="0.2">41.0000</text>
<text x="1137.0" y="593.7" font-size="10.6" fill="#131722" font-weight="normal" font-style="normal" text-anchor="start" textLength="38.2" lengthAdjust="spacingAndGlyphs" stroke="#131722" stroke-width="0.2">42.0000</text>
<text x="1137.0" y="564.8" font-size="10.6" fill="#131722" font-weight="normal" font-style="normal" text-anchor="start" textLength="38.2" lengthAdjust="spacingAndGlyphs" stroke="#131722" stroke-width="0.2">43.0000</text>
<text x="1137.0" y="535.9" font-size="10.6" fill="#131722" font-weight="normal" font-style="normal" text-anchor="start" textLength="38.2" lengthAdjust="spacingAndGlyphs" stroke="#131722" stroke-width="0.2">44.0000</text>
<text x="1137.0" y="507.1" font-size="10.6" fill="#131722" font-weight="normal" font-style="normal" text-anchor="start" textLength="38.2" lengthAdjust="spacingAndGlyphs" stroke="#131722" stroke-width="0.2">45.0000</text>
<text x="1137.0" y="478.2" font-size="10.6" fill="#131722" font-weight="normal" font-style="normal" text-anchor="start" textLength="38.2" lengthAdjust="spacingAndGlyphs" stroke="#131722" stroke-width="0.2">46.0000</text>
<text x="1137.0" y="449.3" font-size="10.6" fill="#131722" font-weight="normal" font-style="normal" text-anchor="start" textLength="38.2" lengthAdjust="spacingAndGlyphs" stroke="#131722" stroke-width="0.2">47.0000</text>
<text x="1137.0" y="420.5" font-size="10.6" fill="#131722" font-weight="normal" font-style="normal" text-anchor="start" textLength="38.2" lengthAdjust="spacingAndGlyphs" stroke="#131722" stroke-width="0.2">48.0000</text>
<path d="M1129.9 531 H1178.8 Q1180.8 531 1180.8 533 V544.8 Q1180.8 546.8 1178.8 546.8 H1129.9 Z" fill="#0a987e"/>
<text x="1137.0" y="542.8" font-size="10.6" fill="#fff" font-weight="bold" font-style="normal" text-anchor="start" textLength="38.4" lengthAdjust="spacingAndGlyphs" stroke="#fff" stroke-width="0.2">43.7550</text>
<path d="M1129.9 653.2 H1178.8 Q1180.8 653.2 1180.8 655.2 V666.9 Q1180.8 668.9 1178.8 668.9 H1129.9 Z" fill="#000"/>
<text x="1137.0" y="665.0" font-size="10.6" fill="#fff" font-weight="bold" font-style="normal" text-anchor="start" textLength="38.4" lengthAdjust="spacingAndGlyphs" stroke="#fff" stroke-width="0.2">39.5230</text>
<text x="1082.3" y="564.9" font-size="9.8" fill="#111" font-weight="bold" font-style="italic" text-anchor="start" textLength="24.7" lengthAdjust="spacingAndGlyphs" stroke="#111" stroke-width="0.2">42.96</text>
<text x="1089.6" y="671.5" font-size="9.6" fill="#111" font-weight="normal" font-style="italic" text-anchor="start" textLength="32.5" lengthAdjust="spacingAndGlyphs" stroke="#111" stroke-width="0.2">Support</text>
<text transform="translate(715.1 830.7) rotate(-27.5)" x="0" y="0" font-size="10" fill="#2f62f0" font-style="italic" font-weight="bold" textLength="87.3" lengthAdjust="spacingAndGlyphs">Ascending Channel</text>
<text x="64.0" y="413.0" font-size="10" fill="#131722" font-weight="normal" font-style="normal" text-anchor="start" textLength="176.5" lengthAdjust="spacingAndGlyphs" stroke="#131722" stroke-width="0.2">CFDs on Silver (US$ / OZ) · 1D · TVC</text>
<text x="248.0" y="413.0" font-size="10" fill="#131722" font-weight="normal" font-style="normal" text-anchor="start" stroke="#131722" stroke-width="0.2">O</text>
<text x="255.8" y="413.0" font-size="10" fill="#08977d" font-weight="normal" font-style="normal" text-anchor="start" textLength="37.2" lengthAdjust="spacingAndGlyphs" stroke="#08977d" stroke-width="0.2">43.0590</text>
<text x="300.3" y="413.0" font-size="10" fill="#131722" font-weight="normal" font-style="normal" text-anchor="start" stroke="#131722" stroke-width="0.2">H</text>
<text x="308.0" y="413.0" font-size="10" fill="#08977d" font-weight="normal" font-style="normal" text-anchor="start" textLength="37.2" lengthAdjust="spacingAndGlyphs" stroke="#08977d" stroke-width="0.2">43.7850</text>
<text x="353.0" y="413.0" font-size="10" fill="#131722" font-weight="normal" font-style="normal" text-anchor="start" stroke="#131722" stroke-width="0.2">L</text>
<text x="359.0" y="413.0" font-size="10" fill="#08977d" font-weight="normal" font-style="normal" text-anchor="start" textLength="37.0" lengthAdjust="spacingAndGlyphs" stroke="#08977d" stroke-width="0.2">43.0367</text>
<text x="402.7" y="413.0" font-size="10" fill="#131722" font-weight="normal" font-style="normal" text-anchor="start" stroke="#131722" stroke-width="0.2">C</text>
<text x="410.6" y="413.0" font-size="10" fill="#08977d" font-weight="normal" font-style="normal" text-anchor="start" textLength="37.2" lengthAdjust="spacingAndGlyphs" stroke="#08977d" stroke-width="0.2">43.7550</text>
<text x="455.0" y="413.0" font-size="10" fill="#08977d" font-weight="normal" font-style="normal" text-anchor="start" textLength="82.4" lengthAdjust="spacingAndGlyphs" stroke="#08977d" stroke-width="0.2">+0.6960 (+1.62%)</text>
<text x="79.5" y="1109.7" font-size="10.2" fill="#131722" font-weight="bold" font-style="normal" text-anchor="middle" stroke="#131722" stroke-width="0.2">2025</text>
<text x="183.6" y="1109.7" font-size="10.2" fill="#131722" font-weight="normal" font-style="normal" text-anchor="middle" stroke="#131722" stroke-width="0.2">Feb</text>
<text x="278.6" y="1109.7" font-size="10.2" fill="#131722" font-weight="normal" font-style="normal" text-anchor="middle" stroke="#131722" stroke-width="0.2">Mar</text>
<text x="383.5" y="1109.7" font-size="10.2" fill="#131722" font-weight="normal" font-style="normal" text-anchor="middle" stroke="#131722" stroke-width="0.2">Apr</text>
<text x="488.4" y="1109.7" font-size="10.2" fill="#131722" font-weight="normal" font-style="normal" text-anchor="middle" stroke="#131722" stroke-width="0.2">May</text>
<text x="594.4" y="1109.7" font-size="10.2" fill="#131722" font-weight="normal" font-style="normal" text-anchor="middle" stroke="#131722" stroke-width="0.2">Jun</text>
<text x="693.5" y="1109.7" font-size="10.2" fill="#131722" font-weight="normal" font-style="normal" text-anchor="middle" stroke="#131722" stroke-width="0.2">Jul</text>
<text x="804.4" y="1109.7" font-size="10.2" fill="#131722" font-weight="normal" font-style="normal" text-anchor="middle" stroke="#131722" stroke-width="0.2">Aug</text>
<text x="909.3" y="1109.7" font-size="10.2" fill="#131722" font-weight="normal" font-style="normal" text-anchor="middle" stroke="#131722" stroke-width="0.2">Sep</text>
<text x="1014.5" y="1109.7" font-size="10.2" fill="#131722" font-weight="normal" font-style="normal" text-anchor="middle" stroke="#131722" stroke-width="0.2">Oct</text>
<clipPath id="cn"><rect x="1100" y="1095" width="29" height="20"/></clipPath>
<g clip-path="url(#cn)"><text x="1120.2" y="1109.7" font-size="10.2" fill="#131722" font-weight="normal" font-style="normal" text-anchor="start" stroke="#131722" stroke-width="0.2">Nov</text></g>
<rect x="968.8" y="1070.8" width="21.4" height="21.4" fill="#fff"/>
<path d="M988.07 1079.42 A8.8 8.8 0 1 1 982.22 1073.03" fill="none" stroke="#9c27b0" stroke-width="1.45" stroke-linecap="round"/>
<path d="M981.9 1077.0 L975.2 1081.6 L979.3 1081.8 L976.1 1086.8 L983.7 1081.2 L979.7 1080.8 Z" fill="#9c27b0" stroke="#9c27b0" stroke-width="0.15" stroke-linejoin="round"/>
<circle cx="985.9" cy="1075.3" r="2.05" fill="#f23645"/>
</svg></figure>
<header><h1 class="ln" id="t" style="left:89.0px;top:54.43px;font-size:51px;transform:scaleX(1.0429);-webkit-text-stroke:1.5px currentColor;">Silver</h1></header>
<section class="intro"><p><span class="ln" id="p11" style="left:89.0px;top:161.61px;font-size:32px;word-spacing:3.228px;transform:scaleX(1.0551);-webkit-text-stroke:0.15px currentColor;">Silver continues to trade within a well-defined ascending channel and</span> <span class="ln" id="p12" style="left:89.0px;top:207.21px;font-size:32px;word-spacing:11.134px;transform:scaleX(1.0551);-webkit-text-stroke:0.15px currentColor;">recently tested key resistance between $43 and $44, following a</span> <span class="ln" id="p13" style="left:89.0px;top:252.61px;font-size:32px;word-spacing:7.199px;transform:scaleX(1.0551);-webkit-text-stroke:0.15px currentColor;">breakout above the previous resistance-turned-support at $42.96. A</span> <span class="ln" id="p14" style="left:89.0px;top:298.21px;font-size:32px;transform:scaleX(1.0556);-webkit-text-stroke:0.15px currentColor;">major support zone lies below around $39.50 – $40.00</span></p></section>
<section class="levels"><h2 class="ln" id="h2" style="left:89.0px;top:1221.28px;font-size:26.6px;transform:scaleX(1.1234);-webkit-text-stroke:1.0px currentColor;">Support and Resistance Levels for This Week</h2><p><span class="ln" id="s1" style="left:89.0px;top:1261.82px;font-size:27.5px;transform:scaleX(1.0654);-webkit-text-stroke:0.1px currentColor;">Support: 42.96 – 42.40 – 42.00</span> <span class="ln" id="s2" style="left:89.0px;top:1303.82px;font-size:27.5px;transform:scaleX(1.0455);-webkit-text-stroke:0.1px currentColor;">Resistance: 44.00 – 44.60 – 45.00</span></p></section>
<section class="scenarios"><h2 class="ln" id="h3" style="left:89.0px;top:1389.69px;font-size:36.4px;color:#c0a24e;transform:scaleX(1.0690);-webkit-text-stroke:1.1px currentColor;">Expected Scenarios</h2><p><strong class="ln" id="q1b" style="left:89.3px;top:1456.64px;font-size:27px;transform:scaleX(1.0924);-webkit-text-stroke:1.0px currentColor;">Bullish Scenario:</strong> <span class="ln" id="q1r" style="left:317.2px;top:1456.22px;font-size:27.5px;transform:scaleX(1.0541);-webkit-text-stroke:0.1px currentColor;">Holding above 42.96 opens the path for a test of the $49.80 zone</span> <strong class="ln" id="q2b" style="left:89.3px;top:1498.34px;font-size:27px;transform:scaleX(1.0998);-webkit-text-stroke:1.0px currentColor;">Bearish Scenario:</strong> <span class="ln" id="q2r" style="left:334.0px;top:1497.92px;font-size:27.5px;word-spacing:2.511px;transform:scaleX(1.0551);-webkit-text-stroke:0.1px currentColor;">A break below 42.96 could lead to retests of 42.40 and 42.00.</span> <span class="ln" id="q3" style="left:89.0px;top:1539.22px;font-size:27.5px;word-spacing:8.408px;transform:scaleX(1.0551);-webkit-text-stroke:0.1px currentColor;">Deeper declines may challenge the critical support zone between 40.00 and</span> <span class="ln" id="q4" style="left:89.0px;top:1581.02px;font-size:27.5px;transform:scaleX(1.0461);-webkit-text-stroke:0.1px currentColor;">39.50</span></p></section>
<footer><div class="ln" id="pg" style="left:1116.5px;top:1634.49px;font-size:26px;transform:scaleX(1.2032);-webkit-text-stroke:0.9px currentColor;">05</div></footer>
</body></html>
